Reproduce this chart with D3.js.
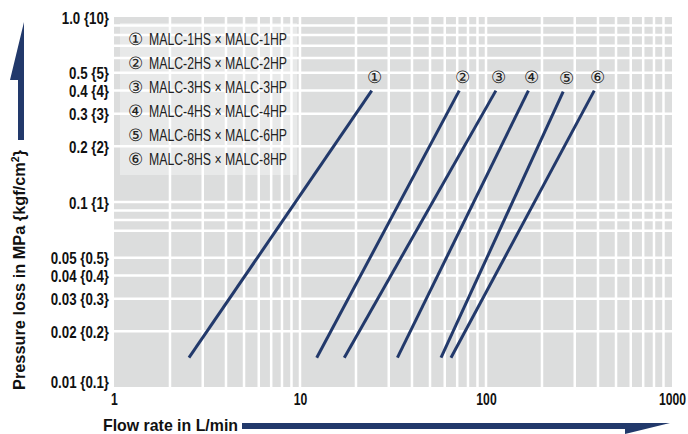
<!DOCTYPE html>
<html><head><meta charset="utf-8">
<script src="https://cdn.jsdelivr.net/npm/d3@7"></script>
<style>
body{margin:0;background:#fff}
svg{display:block}
text{font-family:"Liberation Sans",Arial,sans-serif}
</style></head><body>
<svg id="c" width="688" height="434"></svg>
<script>
// ---- data ----
const seriesLabels = ["①","②","③","④","⑤","⑥"];
const legendLabels = [
  "① MALC-1HS × MALC-1HP",
  "② MALC-2HS × MALC-2HP",
  "③ MALC-3HS × MALC-3HP",
  "④ MALC-4HS × MALC-4HP",
  "⑤ MALC-6HS × MALC-6HP",
  "⑥ MALC-8HS × MALC-8HP"
];
const flowLow      = [2.53, 12.3, 17.3, 33.4, 57.3, 64.8];
const flowHigh     = [24.3, 71.8, 113, 169, 260, 382];
const pressureLow  = [0.0144, 0.0144, 0.0144, 0.0144, 0.0144, 0.0144];
const pressureHigh = [0.40, 0.40, 0.40, 0.40, 0.395, 0.40];

const xTicks = [1, 10, 100, 1000];
const xTickLabels = ["1", "10", "100", "1000"];
const yTicks = [1, 0.5, 0.4, 0.3, 0.2, 0.1, 0.05, 0.04, 0.03, 0.02, 0.01];
const yTickLabels = ["1.0 {10}", "0.5 {5}", "0.4 {4}", "0.3 {3}", "0.2 {2}", "0.1 {1}",
                     "0.05 {0.5}", "0.04 {0.4}", "0.03 {0.3}", "0.02 {0.2}", "0.01 {0.1}"];
const xGridValues = [2,3,4,5,6,7,8,9,10,20,30,40,50,60,70,80,90,100,200,300,400,500,600,700,800,900];
const yGridValues = [0.9,0.8,0.7,0.6,0.5,0.4,0.3,0.2,0.1,0.09,0.08,0.07,0.05,0.04,0.03,0.02];
const xTitle = "Flow rate in L/min";
const yTitle = "Pressure loss in MPa {kgf/cm";

// ---- drawing ----
const navy = "#22396b";
const cjk = "'Noto Sans CJK JP','Noto Sans CJK SC',sans-serif";
const svg = d3.select("#c");
const x = d3.scaleLog().domain([1, 1000]).range([114, 672]);
const y = d3.scaleLog().domain([0.01, 1]).range([387, 17]);

function condense(sel, f) {
  sel.each(function () {
    const w = this.getComputedTextLength();
    d3.select(this).attr("textLength", w * f).attr("lengthAdjust", "spacingAndGlyphs");
  });
}

svg.append("rect")
  .attr("x", x(1)).attr("y", y(1))
  .attr("width", x(1000) - x(1)).attr("height", y(0.01) - y(1))
  .attr("fill", "#dcdddd");

svg.append("g").selectAll("line").data(xGridValues).join("line")
  .attr("x1", d => x(d)).attr("x2", d => x(d))
  .attr("y1", y(1)).attr("y2", y(0.01))
  .attr("stroke", "#fff").attr("stroke-width", 2.5);
svg.append("g").selectAll("line").data(yGridValues).join("line")
  .attr("y1", d => y(d)).attr("y2", d => y(d))
  .attr("x1", x(1)).attr("x2", x(1000))
  .attr("stroke", "#fff").attr("stroke-width", 2.5);

// legend
svg.append("rect").attr("x", 120).attr("y", 23).attr("width", 177).attr("height", 152)
  .attr("fill", "#fff").attr("fill-opacity", 0.35);
const lg = svg.append("g").selectAll("g").data(legendLabels).join("g")
  .attr("transform", (d, i) => `translate(0,${39.5 + i * 24})`);
lg.append("text").attr("x", 135.5).attr("text-anchor", "middle")
  .attr("dominant-baseline", "central").attr("font-size", 17)
  .attr("font-family", cjk).attr("fill", "#222")
  .text(d => d.split(" ")[0]);
lg.append("text").attr("x", 149).attr("dominant-baseline", "central")
  .attr("font-size", 16).attr("fill", "#222")
  .attr("textLength", 138).attr("lengthAdjust", "spacingAndGlyphs")
  .text(d => d.slice(d.indexOf(" ") + 1));

// lines
const line = d3.line().x(d => x(d[0])).y(d => y(d[1]));
const series = seriesLabels.map((s, i) => ({
  label: s,
  pts: [[flowLow[i], pressureLow[i]], [flowHigh[i], pressureHigh[i]]]
}));
svg.append("g").selectAll("path").data(series).join("path")
  .attr("d", d => line(d.pts))
  .attr("fill", "none").attr("stroke", navy).attr("stroke-width", 3);
svg.append("g").selectAll("text").data(series).join("text")
  .attr("x", d => x(d.pts[1][0]) + 3)
  .attr("y", d => y(d.pts[1][1]) - 13)
  .attr("text-anchor", "middle").attr("dominant-baseline", "central")
  .attr("font-size", 17).attr("font-family", cjk).attr("fill", "#222")
  .text(d => d.label);

// axes
const yAxis = d3.axisLeft(y).tickValues(yTicks)
  .tickFormat((d, i) => yTickLabels[i]).tickSize(0).tickPadding(5);
const gy = svg.append("g").attr("transform", `translate(${x(1)},0)`).call(yAxis);
gy.select(".domain").remove();
gy.attr("font-family", null);
gy.selectAll("text").attr("font-size", 16).attr("font-weight", "bold")
  .attr("fill", "#111").attr("dy", d => d === 0.01 ? "0.05em" : "0.38em")
  .call(condense, 0.83);

const xAxis = d3.axisBottom(x).tickValues(xTicks)
  .tickFormat((d, i) => xTickLabels[i]).tickSize(0).tickPadding(7);
const gx = svg.append("g").attr("transform", `translate(0,${y(0.01)})`).call(xAxis);
gx.select(".domain").remove();
gx.attr("font-family", null);
gx.selectAll("text").attr("font-size", 16).attr("font-weight", "bold")
  .attr("fill", "#111").call(condense, 0.76);

// x title + arrow
svg.append("text").attr("x", 103).attr("y", 431)
  .attr("font-size", 17).attr("font-weight", "bold").attr("fill", "#111")
  .attr("textLength", 135).attr("lengthAdjust", "spacingAndGlyphs")
  .text(xTitle);
const pa = d3.path();
pa.moveTo(242, 423); pa.lineTo(670, 423); pa.lineTo(625, 434);
pa.lineTo(625, 429); pa.lineTo(242, 429); pa.closePath();
svg.append("path").attr("d", pa.toString()).attr("fill", navy);

// y title + arrow
const yt = svg.append("text")
  .attr("transform", "translate(25,390) rotate(-90)")
  .attr("font-size", 17).attr("font-weight", "bold").attr("fill", "#111")
  .attr("textLength", 240).attr("lengthAdjust", "spacingAndGlyphs");
yt.append("tspan").text(yTitle);
yt.append("tspan").attr("font-size", 11).attr("dy", -6).text("2");
yt.append("tspan").attr("dy", 6).text("}");
const pb = d3.path();
pb.moveTo(24, 22); pb.lineTo(24, 140); pb.lineTo(18, 140);
pb.lineTo(18, 80); pb.lineTo(10, 80); pb.closePath();
svg.append("path").attr("d", pb.toString()).attr("fill", navy);
</script>
</body></html>
